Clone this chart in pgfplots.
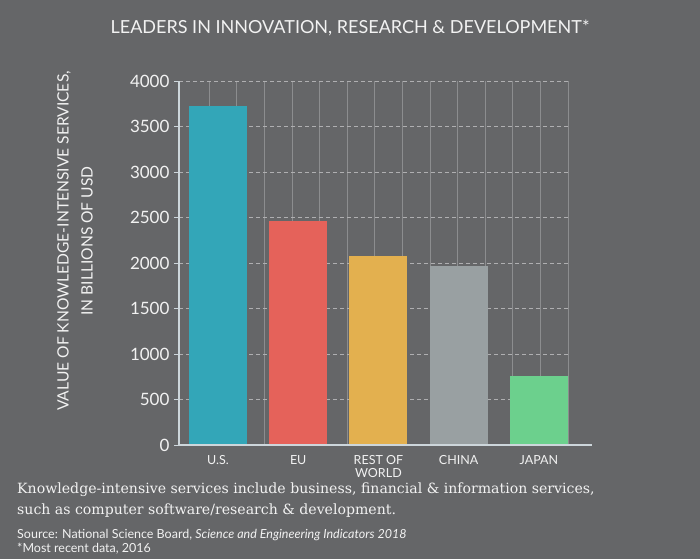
\documentclass[border=0pt]{standalone}
\usepackage{pgfplots}
\pgfplotsset{compat=1.18}
\usepackage{fontspec}
\setmainfont{Lato}
\newfontfamily\slab{DejaVu Serif}
\definecolor{bg}{RGB}{101,102,104}
\definecolor{cus}{RGB}{51,166,184}
\definecolor{ceu}{RGB}{229,98,90}
\definecolor{crw}{RGB}{227,176,79}
\definecolor{ccn}{RGB}{153,160,162}
\definecolor{cjp}{RGB}{108,208,141}
\definecolor{axcol}{RGB}{205,214,219}
\definecolor{hgrid}{RGB}{175,175,177}
\definecolor{vgrid}{RGB}{140,141,143}
\definecolor{txt}{RGB}{242,242,242}
\begin{document}
\begin{tikzpicture}[x=1pt,y=1pt]
\fill[bg] (0,0) rectangle (700,559);
\useasboundingbox (0,0) rectangle (700,559);
\begin{axis}[
  at={(179pt,114pt)}, anchor=south west,
  scale only axis, width=389pt, height=364pt,
  xmin=-0.486, xmax=4.363, ymin=0, ymax=4000,
  axis lines=left, axis line style={-},
  x axis line style={draw=none},
  y axis line style={draw=axcol, line width=1.6pt},
  xtick={0,1,2,3,4},
  xticklabels={U.S., EU, {REST OF\\WORLD}, CHINA, JAPAN},
  ytick={0,500,...,4000},
  tick align=outside, major tick length=5pt,
  y tick style={draw=axcol, line width=0.8pt},
  x tick style={draw=none},
  ticklabel style={color=txt},
  yticklabel style={font=\fontsize{17}{17}\selectfont, xshift=-1pt},
  xticklabel style={font=\fontsize{12.5}{13}\selectfont, align=center, yshift=-2pt},
  /pgf/number format/assume math mode=true,
  yticklabel={\pgfmathprintnumber[fixed,1000 sep={}]{\tick}},
  ymajorgrids, major grid style={dashed, color=hgrid, line width=0.7pt, dash pattern=on 4pt off 3pt},
  minor xtick={-0.112,0.232,0.576,0.921,1.265,1.609,1.953,2.297,2.642,2.986,3.330,3.674,4.019,4.363},
  xminorgrids, minor grid style={solid, color=vgrid, line width=0.6pt},
  minor tick length=0pt,
  clip=false,
]
\addplot[ybar, bar shift=0pt, bar width=58pt, fill=cus, draw=none] coordinates {(0,3720)};
\addplot[ybar, bar shift=0pt, bar width=58pt, fill=ceu, draw=none] coordinates {(1,2465)};
\addplot[ybar, bar shift=0pt, bar width=58pt, fill=crw, draw=none] coordinates {(2,2075)};
\addplot[ybar, bar shift=0pt, bar width=58pt, fill=ccn, draw=none] coordinates {(3,1965)};
\addplot[ybar, bar shift=0pt, bar width=58pt, fill=cjp, draw=none] coordinates {(4,760)};
\end{axis}
\draw[axcol, line width=1.6pt] (178.2,114) -- (592,114);
\node[txt, font=\fontsize{18}{18}\selectfont] at (350,531) {LEADERS IN INNOVATION, RESEARCH \& DEVELOPMENT*};
\node[txt, rotate=90, align=center, font=\fontsize{15.6}{24}\selectfont] at (75,318) {VALUE OF KNOWLEDGE-INTENSIVE SERVICES,\\IN BILLIONS OF USD};
\node[txt, anchor=base west, inner sep=0, font=\slab\fontsize{14.1}{16}\selectfont] at (17,66) {Knowledge-intensive services include business, financial \& information services,};
\node[txt, anchor=base west, inner sep=0, font=\slab\fontsize{14.1}{16}\selectfont] at (17,45) {such as computer software/research \& development.};
\node[txt, anchor=base west, inner sep=0, font=\fontsize{12.5}{13}\selectfont] at (17,21) {Source: National Science Board, \textit{Science and Engineering Indicators 2018}};
\node[txt, anchor=base west, inner sep=0, font=\fontsize{12.5}{13}\selectfont] at (17,7) {*Most recent data, 2016};
\end{tikzpicture}
\end{document}
